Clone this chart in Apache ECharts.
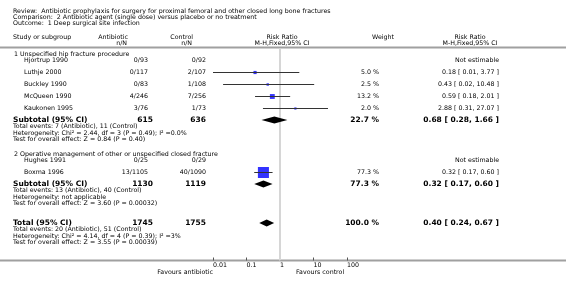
<!DOCTYPE html>
<html><head><meta charset="utf-8">
<script src="https://cdn.jsdelivr.net/npm/echarts@6/dist/echarts.min.js"></script>
<style>html,body{margin:0;padding:0;background:#fff}#c{width:566px;height:284px}</style>
</head><body><div id="c"></div>
<script>
// ---------- data ----------
const reviewTitle = "Antibiotic prophylaxis for surgery for proximal femoral and other closed long bone fractures";
const comparisonTitle = "2 Antibiotic agent (single dose) versus placebo or no treatment";
const outcomeTitle = "1 Deep surgical site infection";
const groupNames = ["1 Unspecified hip fracture procedure", "2 Operative management of other or unspecified closed fracture"];
const studyNames = ["Hjortrup 1990", "Luthje 2000", "Buckley 1990", "McQueen 1990", "Kaukonen 1995", "Hughes 1991", "Boxma 1996"];
const studyGroup = [0, 0, 0, 0, 0, 1, 1];
const abxEvents = [0, 0, 0, 4, 3, 0, 13];
const abxTotal = [93, 117, 83, 246, 76, 25, 1105];
const ctlEvents = [0, 2, 1, 7, 1, 0, 40];
const ctlTotal = [92, 107, 108, 256, 73, 29, 1090];
const studyWeight = [null, 5.0, 2.5, 13.2, 2.0, null, 77.3];
const studyRR = [null, 0.18, 0.43, 0.59, 2.88, null, 0.32];
const studyLow = [null, 0.01, 0.02, 0.18, 0.31, null, 0.17];
const studyHigh = [null, 3.77, 10.48, 2.01, 27.07, null, 0.60];
const subAbxN = [615, 1130];
const subCtlN = [636, 1119];
const subWeight = [22.7, 77.3];
const subRR = [0.68, 0.32];
const subLow = [0.28, 0.17];
const subHigh = [1.66, 0.60];
const subAbxEvents = [7, 13];
const subCtlEvents = [11, 40];
const subHet = ["Chi\u00b2 = 2.44, df = 3 (P = 0.49); I\u00b2 =0.0%", "not applicable"];
const subTest = ["Z = 0.84 (P = 0.40)", "Z = 3.60 (P = 0.00032)"];
const totalAbxN = 1745, totalCtlN = 1755, totalWeight = 100.0;
const totalRR = 0.40, totalLow = 0.24, totalHigh = 0.67;
const totalAbxEvents = 20, totalCtlEvents = 51;
const totalHet = "Chi\u00b2 = 4.14, df = 4 (P = 0.39); I\u00b2 =3%";
const totalTest = "Z = 3.55 (P = 0.00039)";
const tickValues = [0.01, 0.1, 1, 10, 100];
const tickLabels = ["0.01", "0.1", "1", "10", "100"];
const favoursLeft = "Favours antibiotic";
const favoursRight = "Favours control";

// ---------- layout (code, not data) ----------
const FONT = '6.3px "DejaVu Sans"';
const BFONT = 'bold 7.5px "DejaVu Sans"';
const X = {title: 13, group: 14, study: 24, sub: 13, abx: 148, abxB: 153, ctl: 206, ctlB: 206, wt: 379, ci: 499};
const gap = {head: 6.5, step: 12, sub: 11.5, line: 6.5, group: 14.5, total: 19.5};

const texts = [];
function T(text, x, y, align, bold) {
  texts.push({type: 'text', x: x, y: y, silent: true, z: 10,
    style: {text: text, font: bold ? BFONT : FONT, fill: '#000', align: align || 'left', verticalAlign: 'middle'}});
}
const fmt2 = v => v.toFixed(2);
const ciText = (r, l, h) => fmt2(r) + ' [ ' + fmt2(l) + ', ' + fmt2(h) + ' ]';

T('Review:  ' + reviewTitle, X.title, 11);
T('Comparison:  ' + comparisonTitle, X.title, 17);
T('Outcome:  ' + outcomeTitle, X.title, 23);
T('Study or subgroup', 13, 37.5);
T('Antibiotic', 128, 37.5, 'right'); T('n/N', 127, 43, 'right');
T('Control', 193, 37.5, 'right'); T('n/N', 192, 43, 'right');
T('Risk Ratio', 282, 37.5, 'center'); T('M-H,Fixed,95% CI', 282, 43, 'center');
T('Weight', 383, 37.5, 'center');
T('Risk Ratio', 470, 37.5, 'center'); T('M-H,Fixed,95% CI', 470, 43, 'center');

const ciData = [], sqData = [], diaData = [];
let y = 54;
groupNames.forEach((g, gi) => {
  if (gi > 0) y += gap.group;
  T(g, X.group, y);
  y += gap.head;
  let last = y;
  studyNames.forEach((s, si) => {
    if (studyGroup[si] !== gi) return;
    T(s, X.study, y);
    T(abxEvents[si] + '/' + abxTotal[si], X.abx, y, 'right');
    T(ctlEvents[si] + '/' + ctlTotal[si], X.ctl, y, 'right');
    if (studyRR[si] == null) {
      T('Not estimable', X.ci, y, 'right');
    } else {
      T(studyWeight[si].toFixed(1) + ' %', X.wt, y, 'right');
      T(ciText(studyRR[si], studyLow[si], studyHigh[si]), X.ci, y, 'right');
      ciData.push([studyLow[si], studyHigh[si], y]);
      sqData.push([studyRR[si], y, studyWeight[si]]);
    }
    last = y;
    y += gap.step;
  });
  y = last + gap.sub;
  T('Subtotal (95% CI)', X.sub, y, 'left', true);
  T(String(subAbxN[gi]), X.abxB, y, 'right', true);
  T(String(subCtlN[gi]), X.ctlB, y, 'right', true);
  T(subWeight[gi].toFixed(1) + ' %', X.wt, y, 'right', true);
  T(ciText(subRR[gi], subLow[gi], subHigh[gi]), X.ci, y, 'right', true);
  diaData.push([subLow[gi], subHigh[gi], y, subRR[gi]]);
  y += gap.line; T('Total events: ' + subAbxEvents[gi] + ' (Antibiotic), ' + subCtlEvents[gi] + ' (Control)', X.sub, y);
  y += gap.line; T('Heterogeneity: ' + subHet[gi], X.sub, y);
  y += gap.line; T('Test for overall effect: ' + subTest[gi], X.sub, y);
});
y += gap.total;
T('Total (95% CI)', X.sub, y, 'left', true);
T(String(totalAbxN), X.abxB, y, 'right', true);
T(String(totalCtlN), X.ctlB, y, 'right', true);
T(totalWeight.toFixed(1) + ' %', X.wt, y, 'right', true);
T(ciText(totalRR, totalLow, totalHigh), X.ci, y, 'right', true);
diaData.push([totalLow, totalHigh, y, totalRR]);
y += gap.line; T('Total events: ' + totalAbxEvents + ' (Antibiotic), ' + totalCtlEvents + ' (Control)', X.sub, y);
y += gap.line; T('Heterogeneity: ' + totalHet, X.sub, y);
y += gap.line; T('Test for overall effect: ' + totalTest, X.sub, y);
T(favoursLeft, 213, 272.5, 'right');
T(favoursRight, 296, 272.5, 'left');

const gridTop = 48.5, axisY = 260.5;
const graphics = [
  {type: 'rect', shape: {x: 0, y: 46.5, width: 566, height: 2}, style: {fill: '#a0a0a0'}, silent: true},
  {type: 'rect', shape: {x: 0, y: 259.5, width: 566, height: 2}, style: {fill: '#a0a0a0'}, silent: true}
].concat(texts);

const chart = echarts.init(document.getElementById('c'), null, {renderer: 'canvas'});
chart.setOption({
  animation: false,
  backgroundColor: '#fff',
  grid: {left: 213, right: 566 - 347, top: gridTop, bottom: 284 - axisY},
  xAxis: {
    type: 'log', logBase: 10, min: 0.01, max: 100,
    axisLine: {show: false},
    axisTick: {show: true, inside: true, length: 3, lineStyle: {color: '#555', width: 1}},
    splitLine: {show: false},
    axisLabel: {
      show: true, showMinLabel: true, showMaxLabel: true,
      fontSize: 6.3, fontFamily: 'DejaVu Sans', color: '#000', align: 'left', margin: 2,
      formatter: v => {
        const i = tickValues.findIndex(t => Math.abs(Math.log10(t) - Math.log10(v)) < 1e-6);
        return i >= 0 ? tickLabels[i] : '';
      }
    }
  },
  yAxis: {type: 'value', min: gridTop, max: axisY, inverse: true, show: false},
  graphic: graphics,
  series: [
    {
      type: 'scatter', symbol: 'rect', z: 3,
      symbolSize: d => 1.2 * Math.sqrt(d[2]) + 0.5,
      itemStyle: {color: '#0000ff'},
      data: sqData,
      markLine: {
        silent: true, symbol: ['none', 'none'], label: {show: false},
        lineStyle: {color: '#d6d6d6', width: 2, type: 'solid'},
        data: [{xAxis: 1}]
      }
    },
    {
      type: 'custom', z: 5, clip: false,
      renderItem: (params, api) => {
        const p1 = api.coord([api.value(0), api.value(2)]);
        const p2 = api.coord([api.value(1), api.value(2)]);
        return {type: 'line', shape: {x1: p1[0], y1: p1[1], x2: p2[0], y2: p2[1]},
          style: {stroke: '#333', lineWidth: 1}};
      },
      encode: {x: [0, 1], y: 2},
      data: ciData
    },
    {
      type: 'custom', z: 6, clip: false,
      renderItem: (params, api) => {
        const yy = api.value(2);
        const a = api.coord([api.value(0), yy]);
        const b = api.coord([api.value(1), yy]);
        const c = api.coord([api.value(3), yy]);
        return {type: 'polygon', shape: {points: [a, [c[0], c[1] - 3.5], b, [c[0], c[1] + 3.5]]},
          style: {fill: '#000'}};
      },
      encode: {x: [0, 1, 3], y: 2},
      data: diaData
    }
  ]
});
</script></body></html>
